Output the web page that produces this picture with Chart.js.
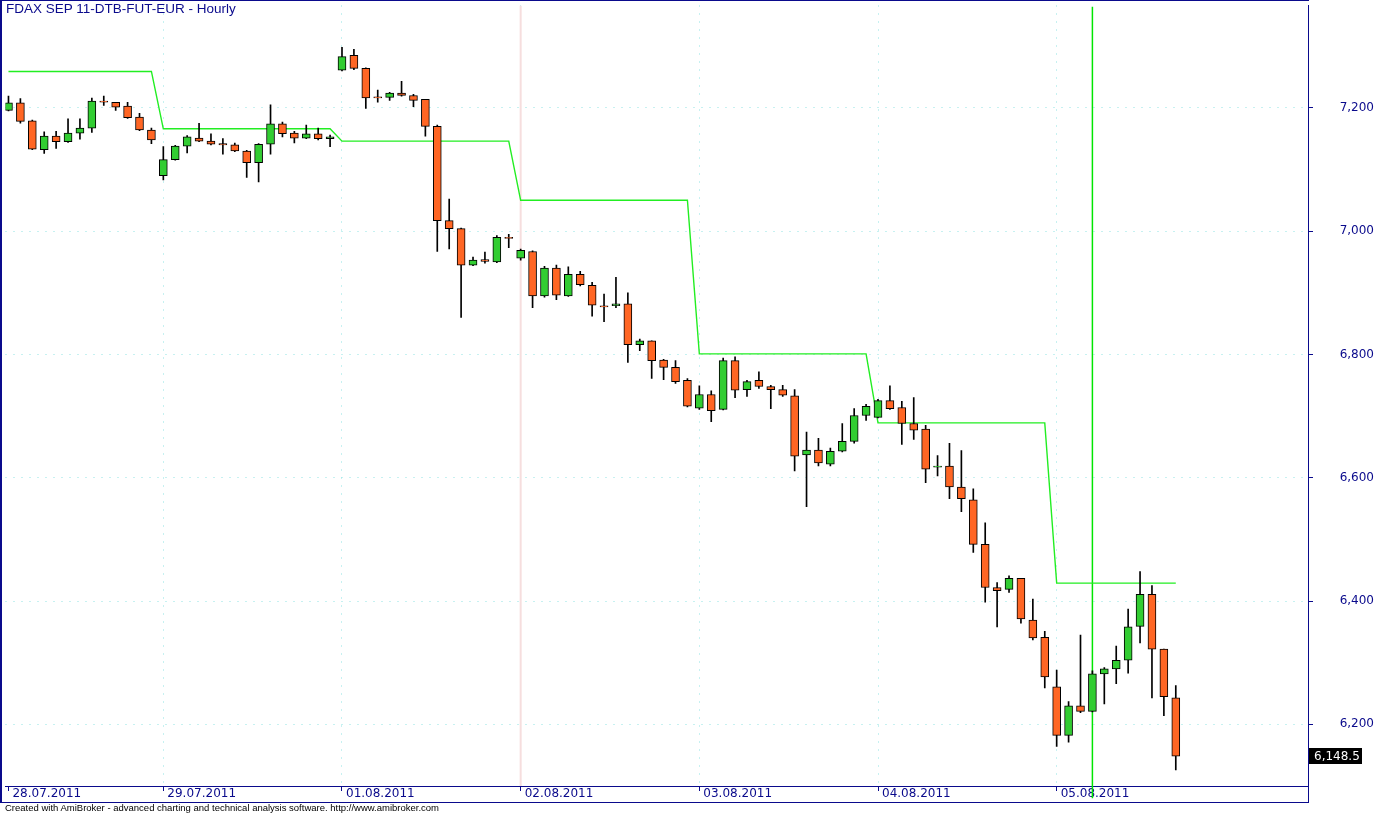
<!DOCTYPE html>
<html>
<head>
<meta charset="utf-8">
<title>FDAX SEP 11-DTB-FUT-EUR - Hourly</title>
<script src="https://cdn.jsdelivr.net/npm/chart.js"></script>
<style>
  html, body { margin: 0; padding: 0; background: #fff; }
  #wrap { position: relative; width: 1377px; height: 814px; }
  #my_chart { display: block; }
  #title { position: absolute; left: 6px; top: 1px; line-height: 16px; font: 13.5px 'Liberation Sans', Arial, sans-serif; color: #0a0a8c; white-space: nowrap; }
  #footer { position: absolute; left: 5px; top: 802px; line-height: 12px; font: 9.5px 'Liberation Sans', Arial, sans-serif; color: #000; white-space: nowrap; }
</style>
</head>
<body>
<div id="wrap">
  <canvas id="my_chart" width="1377" height="814"></canvas>
  <div id="title">FDAX SEP 11-DTB-FUT-EUR - Hourly</div>
  <div id="footer">Created with AmiBroker - advanced charting and technical analysis software. http://www.amibroker.com</div>
</div>
<script>
(function () {
  'use strict';

  // day labels on the time axis and the bar where each day starts
  const dayLabels = ['28.07.2011', '29.07.2011', '01.08.2011', '02.08.2011', '03.08.2011', '04.08.2011', '05.08.2011'];
  const dayStarts = [0, 13, 28, 43, 58, 73, 88];

  // price axis
  const priceTicks = [6200, 6400, 6600, 6800, 7000, 7200];
  const yMin = 6100;
  const yMax = 7366;

  // hourly bars (one row per day)
  const open = [
    7196, 7208, 7179, 7132, 7154, 7145, 7159, 7167, 7211, 7209, 7203, 7185, 7164,
    7090, 7116, 7138, 7151, 7146, 7142, 7140, 7130, 7111, 7141, 7174, 7159, 7151, 7158, 7150,
    7261, 7285, 7264, 7218, 7217, 7224, 7220, 7214, 7170, 7017, 7004, 6945, 6954, 6950, 6990,
    6956, 6967, 6895, 6940, 6895, 6930, 6912, 6879, 6879, 6882, 6816, 6822, 6791, 6779, 6758,
    6713, 6735, 6711, 6790, 6743, 6758, 6748, 6743, 6733, 6637, 6645, 6622, 6643, 6659, 6701,
    6698, 6725, 6714, 6688, 6679, 6617, 6619, 6585, 6564, 6492, 6422, 6419, 6437, 6369, 6341,
    6261, 6182, 6230, 6221, 6282, 6290, 6304, 6359, 6411, 6322, 6243,
  ];
  const high = [
    7219, 7215, 7180, 7161, 7162, 7182, 7182, 7216, 7219, 7209, 7209, 7191, 7167,
    7137, 7139, 7155, 7175, 7158, 7150, 7143, 7131, 7142, 7205, 7177, 7162, 7172, 7167, 7156,
    7298, 7295, 7265, 7229, 7225, 7243, 7222, 7214, 7172, 7052, 7005, 6958, 6966, 6993, 6995,
    6971, 6968, 6943, 6945, 6942, 6935, 6917, 6898, 6925, 6900, 6825, 6822, 6792, 6790, 6761,
    6749, 6741, 6794, 6796, 6758, 6772, 6750, 6750, 6743, 6674, 6664, 6648, 6688, 6712, 6719,
    6727, 6749, 6724, 6730, 6685, 6636, 6656, 6644, 6582, 6527, 6430, 6441, 6437, 6403, 6351,
    6288, 6237, 6345, 6287, 6292, 6327, 6387, 6448, 6425, 6322, 6263,
  ];
  const low = [
    7195, 7175, 7132, 7126, 7134, 7144, 7149, 7160, 7204, 7196, 7183, 7163, 7142,
    7083, 7115, 7127, 7145, 7140, 7125, 7129, 7087, 7080, 7125, 7153, 7143, 7150, 7148, 7137,
    7260, 7262, 7199, 7209, 7212, 7219, 7202, 7154, 6967, 6971, 6860, 6944, 6948, 6949, 6973,
    6953, 6876, 6893, 6889, 6894, 6911, 6862, 6853, 6876, 6787, 6806, 6761, 6759, 6753, 6715,
    6711, 6691, 6710, 6730, 6732, 6745, 6712, 6732, 6611, 6553, 6619, 6619, 6642, 6656, 6693,
    6697, 6711, 6654, 6662, 6592, 6603, 6566, 6545, 6479, 6398, 6358, 6414, 6364, 6337, 6259,
    6164, 6171, 6219, 6220, 6233, 6266, 6283, 6332, 6243, 6214, 6126,
  ];
  const close = [
    7208, 7178, 7133, 7154, 7145, 7159, 7167, 7211, 7209, 7201, 7184, 7164, 7148,
    7116, 7138, 7153, 7146, 7141, 7140, 7130, 7111, 7141, 7174, 7158, 7151, 7158, 7150, 7153,
    7283, 7264, 7216, 7216, 7224, 7220, 7212, 7170, 7017, 7004, 6945, 6953, 6951, 6990, 6988,
    6969, 6895, 6940, 6896, 6930, 6913, 6880, 6877, 6882, 6816, 6822, 6790, 6779, 6756, 6716,
    6735, 6709, 6790, 6742, 6756, 6748, 6743, 6734, 6635, 6645, 6624, 6643, 6659, 6701, 6716,
    6725, 6712, 6688, 6677, 6614, 6619, 6585, 6566, 6492, 6422, 6417, 6437, 6371, 6340, 6277,
    6182, 6230, 6221, 6282, 6290, 6304, 6358, 6411, 6322, 6245, 6148.5,
  ];

  // green step line
  const stopLevel = [
    7259, 7259, 7259, 7259, 7259, 7259, 7259, 7259, 7259, 7259, 7259, 7259, 7259,
    7166, 7166, 7166, 7166, 7166, 7166, 7166, 7166, 7166, 7166, 7166, 7166, 7166, 7166, 7166,
    7146, 7146, 7146, 7146, 7146, 7146, 7146, 7146, 7146, 7146, 7146, 7146, 7146, 7146, 7146,
    7050, 7050, 7050, 7050, 7050, 7050, 7050, 7050, 7050, 7050, 7050, 7050, 7050, 7050, 7050,
    6801, 6801, 6801, 6801, 6801, 6801, 6801, 6801, 6801, 6801, 6801, 6801, 6801, 6801, 6801,
    6689, 6689, 6689, 6689, 6689, 6689, 6689, 6689, 6689, 6689, 6689, 6689, 6689, 6689, 6689,
    6429, 6429, 6429, 6429, 6429, 6429, 6429, 6429, 6429, 6429, 6429,
  ];

  // vertical marker and week separator
  const markerBar = 91;
  const markerRange = [6080, 7364];
  const weekStartBar = 43;

  const upColor = '#32cd32';
  const downColor = '#ff6624';
  const navy = '#0a0a8c';
  const gridColor = '#8fe3e3';

  // -> build the datasets
  const bodies = [];
  const wicks = [];
  const colors = [];
  const levels = [];
  for (let i = 0; i < close.length; i++) {
    bodies.push({ x: i, y: [open[i], close[i]] });
    wicks.push({ x: i, y: [low[i], high[i]] });
    colors.push(close[i] >= open[i] ? upColor : downColor);
    levels.push({ x: i, y: stopLevel[i] });
  }

  // frame + last price box
  const framePlugin = {
    id: 'frame',
    afterDraw(chart) {
      const ctx = chart.ctx;
      const a = chart.chartArea;
      const bandBottom = a.bottom + 16;
      ctx.save();
      ctx.fillStyle = navy;
      ctx.fillRect(0, 0, a.right + 1, 1);
      ctx.fillRect(0, 0, 2, bandBottom + 1);
      ctx.fillRect(a.right, a.bottom, 1, 16);
      ctx.fillRect(0, bandBottom, a.right + 1, 1);

      const last = close[close.length - 1];
      const y = Math.round(chart.scales.y.getPixelForValue(last));
      ctx.fillStyle = '#000';
      ctx.fillRect(a.right + 1, y - 8, 53, 16);
      ctx.fillStyle = '#fff';
      ctx.font = '12px "DejaVu Sans"';
      ctx.textBaseline = 'middle';
      ctx.textAlign = 'left';
      ctx.fillText(last.toLocaleString('en-US', { minimumFractionDigits: 1 }), a.right + 6, y + 1);
      ctx.restore();
    }
  };

  const ctx = document.getElementById('my_chart').getContext('2d');

  const myChart = new Chart(ctx, {
    type: 'bar',
    data: {
      datasets: [
        {
          type: 'line',
          data: [{ x: weekStartBar, y: yMin }, { x: weekStartBar, y: yMax }],
          borderColor: '#f6dede',
          borderWidth: 2,
          pointRadius: 0,
          order: 6,
        },
        {
          type: 'line',
          data: [{ x: markerBar, y: markerRange[1] }, { x: markerBar, y: markerRange[0] }],
          borderColor: '#00e600',
          backgroundColor: '#00e600',
          borderWidth: 1.5,
          pointRadius: [0, 3],
          pointStyle: 'rect',
          clip: false,
          order: 5,
        },
        {
          type: 'line',
          data: levels,
          borderColor: '#22ee22',
          borderWidth: 1.4,
          pointRadius: 0,
          order: 4,
        },
        {
          data: wicks,
          backgroundColor: '#000',
          barThickness: 1,
          grouped: false,
          order: 2,
        },
        {
          data: bodies,
          backgroundColor: colors,
          borderColor: '#000',
          borderWidth: 1,
          borderSkipped: false,
          barThickness: 8,
          grouped: false,
          order: 1,
        },
      ]
    },
    options: {
      responsive: false,
      animation: false,
      devicePixelRatio: 1,
      layout: { padding: { left: 2, top: 1, right: 3, bottom: 0 } },
      plugins: {
        legend: { display: false },
        tooltip: { enabled: false },
        title: { display: false },
      },
      scales: {
        x: {
          type: 'linear',
          min: -0.25,
          max: 109.1,
          offset: false,
          afterBuildTicks: function (axis) {
            axis.ticks = dayStarts.map(v => ({ value: v }));
          },
          afterFit: function (axis) {
            axis.height = 28;
            axis.paddingLeft = 0;
            axis.paddingRight = 0;
          },
          grid: {
            offset: false,
            color: (c) => (c.tick && c.tick.value === 0) ? 'rgba(0,0,0,0)' : gridColor,
            lineWidth: 1,
            tickColor: navy,
            tickLength: 5,
            tickBorderDash: [],
          },
          border: { display: true, color: navy, dash: [1, 7] },
          ticks: {
            color: navy,
            font: { family: 'DejaVu Sans', size: 12 },
            align: 'start',
            labelOffset: 4,
            padding: -4,
            maxRotation: 0,
            autoSkip: false,
            callback: function (value, index) { return dayLabels[index]; }
          }
        },
        y: {
          position: 'right',
          min: yMin,
          max: yMax,
          afterBuildTicks: function (axis) {
            axis.ticks = priceTicks.map(v => ({ value: v }));
          },
          afterFit: function (axis) {
            axis.width = 66;
            axis.paddingTop = 0;
            axis.paddingBottom = 0;
          },
          grid: {
            color: gridColor,
            lineWidth: 1,
            tickColor: navy,
            tickLength: 5,
            tickBorderDash: [],
          },
          border: { display: true, color: navy, dash: [1, 7] },
          ticks: {
            color: navy,
            font: { family: 'DejaVu Sans', size: 12 },
            crossAlign: 'far',
            padding: 26,
            callback: function (value) { return value.toLocaleString('en-US'); }
          }
        }
      }
    },
    plugins: [framePlugin]
  });

})();
</script>
</body>
</html>
